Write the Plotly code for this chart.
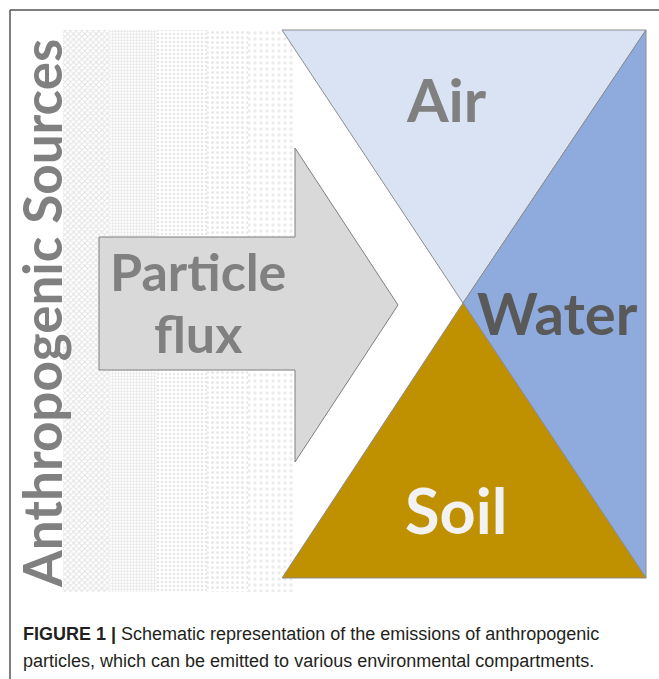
import plotly.graph_objects as go

# ---- diagram geometry (pixel-space coordinates of the schematic) ----
air_x = [282, 646, 463]
air_y = [30, 30, 303]
water_x = [646, 646, 463]
water_y = [30, 578, 303]
soil_x = [463, 282, 646]
soil_y = [303, 578, 578]
arrow_x = [99, 295, 295, 398, 295, 295, 99]
arrow_y = [237, 237, 148, 305, 462, 370, 370]

band_left = [63, 110, 157, 207, 248]
band_right = [110, 157, 207, 248, 295]
band_shapes = ["x", ".", ".", ".", "."]
band_sizes = [4, 3, 4, 5, 6]
band_solidity = [0.45, 0.45, 0.35, 0.3, 0.25]
band_fg = ["#c4c4c4", "#cccccc", "#d0d0d0", "#d4d4d4", "#d8d8d8"]
band_top = 30
band_bottom = 592

labels = ["Air", "Water", "Soil"]
label_x = [446, 557, 456]
label_y = [99, 312, 509]

caption_1 = "<b>FIGURE 1 |</b> Schematic representation of the emissions of anthropogenic"
caption_2 = "particles, which can be emitted to various environmental compartments."

W, H = 659, 679
fig = go.Figure()

# dotted source bands
for l, r, shp, sz, sol, fg in zip(band_left, band_right, band_shapes, band_sizes, band_solidity, band_fg):
    fig.add_trace(go.Bar(
        x=[(l + r) / 2], y=[band_bottom - band_top], base=[band_top], width=[r - l],
        marker=dict(color="white", line=dict(width=0),
                    pattern=dict(shape=shp, fgcolor=fg, bgcolor="#ffffff",
                                 size=sz, solidity=sol)),
        hoverinfo="skip", showlegend=False))

def poly(xs, ys, fill, line="#808080", lw=1):
    fig.add_trace(go.Scatter(
        x=xs + [xs[0]], y=ys + [ys[0]], mode="lines", fill="toself",
        fillcolor=fill, line=dict(color=line, width=lw),
        hoverinfo="skip", showlegend=False))

poly(arrow_x, arrow_y, "#d9d9d9", "#7f7f7f", 1)
poly(air_x, air_y, "#dae3f3", "#8c8c8c", 1)
poly(water_x, water_y, "#8faadc", "#8c8c8c", 1)
poly(soil_x, soil_y, "#bf9000", "#8c8c8c", 1)

font_family = "Lato, 'Open Sans', sans-serif"
ann = []
ann.append(dict(x=198, y=271, text="<b>Particle</b>", font=dict(size=52, color="#808080", family=font_family)))
ann.append(dict(x=198, y=333, text="<b>flux</b>", font=dict(size=52, color="#808080", family=font_family)))
ann.append(dict(x=label_x[0], y=label_y[0], text="<b>" + labels[0] + "</b>", font=dict(size=60, color="#808080", family=font_family)))
ann.append(dict(x=label_x[1], y=label_y[1], text="<b>" + labels[1] + "</b>", font=dict(size=58, color="#595959", family=font_family)))
ann.append(dict(x=label_x[2], y=label_y[2], text="<b>" + labels[2] + "</b>", font=dict(size=63, color="#f2f2f2", family=font_family)))
ann.append(dict(x=41, y=314, text="<b>Anthropogenic Sources</b>", textangle=-90,
                font=dict(size=53, color="#808080", family=font_family)))
for a in ann:
    a.update(xref="x", yref="y", showarrow=False, xanchor="center", yanchor="middle")
fig.update_layout(annotations=ann)

cap_font = dict(size=18, color="#231f20", family="'Liberation Sans', Arial, sans-serif")
fig.add_annotation(x=21, y=634, xref="x", yref="y", text=caption_1, showarrow=False,
                   xanchor="left", yanchor="middle", font=cap_font)
fig.add_annotation(x=21, y=661, xref="x", yref="y", text=caption_2, showarrow=False,
                   xanchor="left", yanchor="middle", font=cap_font)

# frame
fig.add_shape(type="line", x0=10, x1=W, y0=10, y1=10, xref="x", yref="y",
              line=dict(color="#555555", width=1.5))
fig.add_shape(type="line", x0=10, x1=10, y0=10, y1=H, xref="x", yref="y",
              line=dict(color="#555555", width=1.5))

fig.update_layout(
    width=W, height=H, margin=dict(l=0, r=0, t=0, b=0),
    paper_bgcolor="white", plot_bgcolor="white", bargap=0,
    xaxis=dict(range=[0, W], visible=False, fixedrange=True),
    yaxis=dict(range=[H, 0], visible=False, fixedrange=True),
)
fig.write_html("out.html", config={"displayModeBar": False},
               post_script="document.body.style.margin='0';document.body.style.overflow='hidden';")
